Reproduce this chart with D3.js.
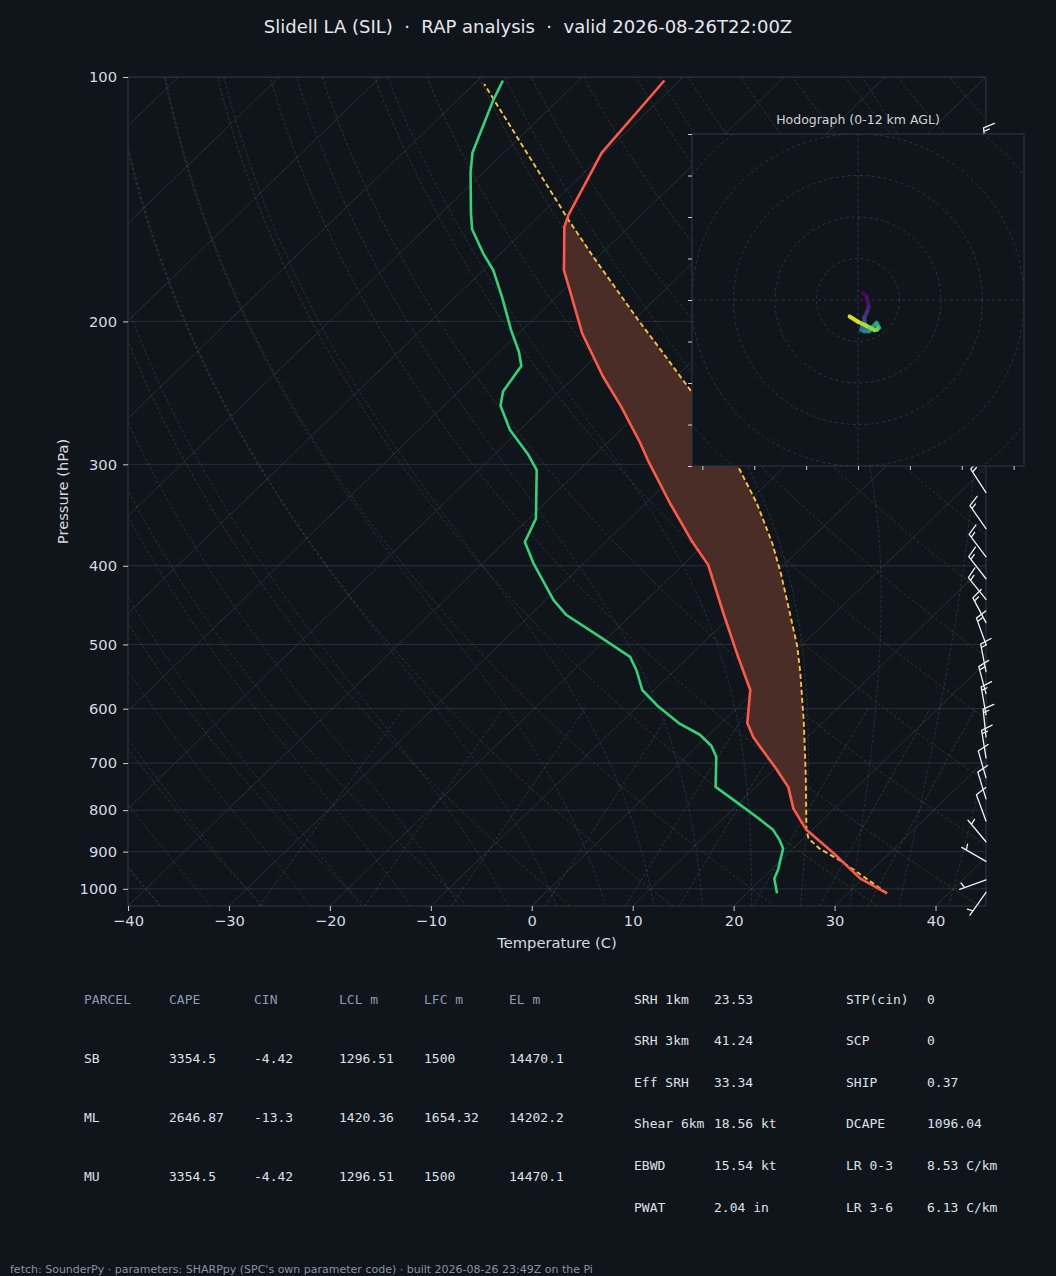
<!DOCTYPE html>
<html>
<head>
<meta charset="utf-8">
<title>Slidell LA (SIL) : RAP analysis skew-T</title>
<script src="https://cdn.jsdelivr.net/npm/d3@7"></script>
<style>
  body { margin: 0; background: #10141b; }
  svg { display: block; }
  text { font-family: "DejaVu Sans", sans-serif; white-space: pre; }
  .mono { font-family: "DejaVu Sans Mono", monospace; }
</style>
</head>
<body>
<svg width="1056" height="1276"></svg>
<script>
// ---- sounding: pressure (hPa) and temperature (C) ----
const tempP = [1013, 971, 904, 846, 823, 796, 749, 711, 675, 650, 625, 569, 518, 458, 399, 374, 335, 296, 282, 254, 234, 207, 181, 173, 153, 148, 124, 101];
const tempC = [33.9, 29.7, 24.5, 19.4, 17.8, 15.9, 13.2, 10.1, 6.9, 4.6, 2.6, -0.5, -5.1, -11.0, -17.5, -21.4, -27.6, -34.3, -36.8, -42.5, -47.2, -53.7, -59.9, -62.0, -66.4, -67.2, -70.3, -71.5];

const dewP = [1013, 971, 948, 892, 871, 846, 815, 777, 749, 688, 667, 646, 625, 594, 569, 538, 518, 489, 460, 441, 397, 374, 350, 305, 292, 272, 254, 244, 227, 218, 205, 187, 173, 165, 154, 147, 131, 124, 107, 101];
const dewC = [23.0, 21.2, 20.7, 19.0, 17.8, 16.1, 13.1, 9.1, 6.0, 3.0, 1.4, -0.9, -4.2, -8.2, -11.2, -13.8, -15.8, -20.9, -26.4, -29.2, -35.0, -38.0, -39.3, -44.2, -46.6, -51.0, -54.4, -55.6, -56.4, -58.1, -61.1, -65.3, -69.0, -71.7, -75.3, -77.1, -81.3, -83.1, -86.4, -87.5];

const parcelP = [1013, 971, 922, 892, 867, 846, 720, 625, 542, 503, 454, 409, 375, 335, 302, 243, 217, 200, 167, 150, 102];
const parcelC = [33.9, 30.3, 25.8, 22.6, 20.5, 19.4, 13.5, 8.2, 2.7, -0.3, -4.8, -9.4, -13.4, -19.0, -24.6, -37.2, -44.2, -49.3, -60.3, -66.7, -89.0];

// ---- winds: pressure, direction (deg from), speed (kt), height AGL (km) ----
const windP   = [1010, 975, 925, 875, 825, 775, 730, 690, 650, 610, 575, 540, 500, 470, 440, 415, 390, 360, 325, 300, 275, 250, 225, 200, 175, 150, 125];
const windDir = [215, 250, 300, 320, 340, 343, 344, 351, 354, 350, 345, 349, 340, 332, 321, 322, 323, 325, 327, 331, 342, 0, 27, 23, 10, 355, 355];
const windKt  = [4.2, 4.5, 6, 7, 9, 10.4, 11.5, 12.7, 14.6, 13.7, 15, 15.3, 16, 14.8, 14.2, 15.3, 16.8, 16.5, 17, 16.6, 13.1, 10.5, 8.9, 7.6, 10, 12, 15];
const windKm  = [0, 0.33, 0.79, 1.27, 1.77, 2.3, 2.8, 3.27, 3.76, 4.27, 4.74, 5.23, 5.84, 6.32, 6.82, 7.26, 7.72, 8.3, 9.04, 9.62, 10.23, 10.9, 11.62, 12.4, 13.3, 14.2, 15.3];

// ---- ticks ----
const pressureTicks = [100, 200, 300, 400, 500, 600, 700, 800, 900, 1000];
const tempTicks = [-40, -30, -20, -10, 0, 10, 20, 30, 40];
const mixingRatios = [0.0004, 0.001, 0.002, 0.004, 0.007, 0.01, 0.016, 0.024, 0.032];

// ---- text ----
const title = "Slidell LA (SIL)  \u00b7  RAP analysis  \u00b7  valid 2026-08-26T22:00Z";
const parcelHeader = ["PARCEL", "CAPE", "CIN", "LCL m", "LFC m", "EL m"];
const parcelRows = [
  ["SB", "3354.5", "-4.42", "1296.51", "1500", "14470.1"],
  ["ML", "2646.87", "-13.3", "1420.36", "1654.32", "14202.2"],
  ["MU", "3354.5", "-4.42", "1296.51", "1500", "14470.1"]
];
const paramsLeft = [["SRH 1km", "23.53"], ["SRH 3km", "41.24"], ["Eff SRH", "33.34"], ["Shear 6km", "18.56 kt"], ["EBWD", "15.54 kt"], ["PWAT", "2.04 in"]];
const paramsRight = [["STP(cin)", "0"], ["SCP", "0"], ["SHIP", "0.37"], ["DCAPE", "1096.04"], ["LR 0-3", "8.53 C/km"], ["LR 3-6", "6.13 C/km"]];
const footer = "fetch: SounderPy \u00b7 parameters: SHARPpy (SPC's own parameter code) \u00b7 built 2026-08-26 23:49Z on the Pi";

const svg = d3.select("svg");
const bg = "#10141b";
const box = {left: 128, top: 77, right: 986, bottom: 906};
const skewK = (box.right - box.left) / (box.bottom - box.top);

const y = d3.scaleLog().domain([1050, 100]).range([box.bottom, box.top]);
const xT = d3.scaleLinear().domain([-40, 45]).range([box.left, box.right]);
const sx = (t, p) => xT(t) + (box.bottom - y(p)) * skewK;

svg.append("rect").attr("width", 1056).attr("height", 1276).attr("fill", bg);

const defs = svg.append("defs");
defs.append("clipPath").attr("id", "plotclip").append("rect")
  .attr("x", box.left).attr("y", box.top)
  .attr("width", box.right - box.left).attr("height", box.bottom - box.top);

const plot = svg.append("g").attr("clip-path", "url(#plotclip)");
const line = d3.line().x(d => sx(d[1], d[0])).y(d => y(d[0]));
const logSpace = (p0, p1, n) => d3.range(n + 1).map(i => p0 * Math.pow(p1 / p0, i / n));
const zip = (P, V) => P.map((p, i) => [p, V[i]]);

// isobars
plot.selectAll(".isobar").data(pressureTicks).enter().append("line")
  .attr("x1", box.left).attr("x2", box.right)
  .attr("y1", d => y(d)).attr("y2", d => y(d))
  .attr("stroke", "#27303b").attr("stroke-width", 1);

// isotherms
d3.range(-130, 50, 10).forEach(t => {
  plot.append("path").attr("d", line([[1050, t], [100, t]]))
    .attr("fill", "none").attr("stroke", "#2a333e").attr("stroke-width", 0.9);
});

// dry adiabats
const profP = logSpace(1050, 100, 60);
d3.range(-40, 181, 10).forEach(th => {
  const pts = profP.map(p => [p, (th + 273.15) * Math.pow(p / 1000, 0.2857) - 273.15]);
  plot.append("path").attr("d", line(pts))
    .attr("fill", "none").attr("stroke", "#6e5538").attr("stroke-opacity", 0.55)
    .attr("stroke-width", 0.8).attr("stroke-dasharray", "3,2");
});

// moist adiabats
function moistAdiabat(t0) {
  const Rd = 287.04, Cp = 1005.7, Lv = 2.501e6, eps = 0.622;
  const f = (lnp, T) => {
    const p = Math.exp(lnp), tc = T - 273.15;
    const es = 6.112 * Math.exp(17.67 * tc / (tc + 243.5));
    const rs = eps * es / (p - es);
    return (Rd * T + Lv * rs) / (Cp + Lv * Lv * rs * eps / (Rd * T * T));
  };
  const run = (pEnd, n) => {
    const out = [];
    let T = t0 + 273.15, lp = Math.log(1000);
    const h = (Math.log(pEnd) - lp) / n;
    for (let i = 0; i < n; i++) {
      const k1 = f(lp, T), k2 = f(lp + h / 2, T + h * k1 / 2);
      const k3 = f(lp + h / 2, T + h * k2 / 2), k4 = f(lp + h, T + h * k3);
      T += h * (k1 + 2 * k2 + 2 * k3 + k4) / 6;
      lp += h;
      out.push([Math.exp(lp), T - 273.15]);
    }
    return out;
  };
  return run(1050, 4).reverse().concat([[1000, t0]], run(100, 60));
}
d3.range(-40, 46, 5).forEach(t0 => {
  plot.append("path").attr("d", line(moistAdiabat(t0)))
    .attr("fill", "none").attr("stroke", "#3b6272").attr("stroke-opacity", 0.5)
    .attr("stroke-width", 0.8).attr("stroke-dasharray", "3,2");
});

// mixing ratio lines
mixingRatios.forEach(w => {
  const pts = logSpace(1050, 600, 20).map(p => {
    const l = Math.log((w * p / (0.622 + w)) / 6.112);
    return [p, 243.5 * l / (17.67 - l)];
  });
  plot.append("path").attr("d", line(pts))
    .attr("fill", "none").attr("stroke", "#3b6a6a").attr("stroke-opacity", 0.55)
    .attr("stroke-width", 0.8).attr("stroke-dasharray", "3,2");
});

// positive area between the environment and the parcel
function interpLogP(P, V, p) {
  for (let i = 0; i < P.length - 1; i++) {
    if (p <= P[i] && p >= P[i + 1]) {
      const f = (Math.log(p) - Math.log(P[i])) / (Math.log(P[i + 1]) - Math.log(P[i]));
      return V[i] + f * (V[i + 1] - V[i]);
    }
  }
  return NaN;
}
const fillP = Array.from(new Set(tempP.concat(parcelP)))
  .filter(p => p <= 870 && p >= 145).sort((a, b) => b - a);
const fillPts = fillP.map(p => {
  const te = interpLogP(tempP, tempC, p), tp = interpLogP(parcelP, parcelC, p);
  return {p: p, te: te, tp: Math.max(te, tp)};
});
plot.append("path")
  .attr("d", d3.area().y(d => y(d.p)).x0(d => sx(d.te, d.p)).x1(d => sx(d.tp, d.p))(fillPts))
  .attr("fill", "#4a2d26");

// profiles
plot.append("path").attr("d", line(zip(parcelP, parcelC)))
  .attr("fill", "none").attr("stroke", "#f5c242").attr("stroke-width", 1.9)
  .attr("stroke-dasharray", "5,3");
plot.append("path").attr("d", line(zip(tempP, tempC)))
  .attr("fill", "none").attr("stroke", "#ff5a48").attr("stroke-width", 2.6)
  .attr("stroke-linejoin", "round");
plot.append("path").attr("d", line(zip(dewP, dewC)))
  .attr("fill", "none").attr("stroke", "#33d17a").attr("stroke-width", 2.6)
  .attr("stroke-linejoin", "round");

// frame + axes
svg.append("rect").attr("x", box.left).attr("y", box.top)
  .attr("width", box.right - box.left).attr("height", box.bottom - box.top)
  .attr("fill", "none").attr("stroke", "#2e3947").attr("stroke-width", 1);

function styleAxis(g) {
  g.select(".domain").remove();
  g.selectAll(".tick line").attr("stroke", "#c9ced5");
  g.selectAll(".tick text").attr("fill", "#d6dae0");
  g.attr("font-size", 14.7).attr("font-family", "DejaVu Sans, sans-serif");
}
svg.append("g").attr("transform", `translate(0,${box.bottom})`)
  .call(d3.axisBottom(xT).tickValues(tempTicks).tickSize(5).tickPadding(5))
  .call(styleAxis);
svg.append("g").attr("transform", `translate(${box.left},0)`)
  .call(d3.axisLeft(y).tickValues(pressureTicks).tickFormat(d3.format("d")).tickSize(5).tickPadding(6))
  .call(styleAxis);

svg.append("text").attr("x", (box.left + box.right) / 2).attr("y", 948)
  .attr("text-anchor", "middle").attr("font-size", 14.7).attr("fill", "#d6dae0")
  .text("Temperature (C)");
svg.append("text").attr("transform", `translate(68,${(box.top + box.bottom) / 2}) rotate(-90)`)
  .attr("text-anchor", "middle").attr("font-size", 14.7).attr("fill", "#d6dae0")
  .text("Pressure (hPa)");

// wind barbs along the right edge
function barbPath(bx, by, dirDeg, kt) {
  const L = 28, H = 0.4 * L, sp = 0.125 * L, fw = 0.25 * L;
  const a = dirDeg * Math.PI / 180;
  const dx = Math.sin(a), dy = -Math.cos(a);
  const nx = Math.cos(a), ny = Math.sin(a);
  const at = (t, h, s) => [bx + dx * (t + s) + nx * h, by + dy * (t + s) + ny * h];
  let r = Math.round(kt / 5) * 5;
  const flags = Math.floor(r / 50); r -= 50 * flags;
  const fulls = Math.floor(r / 10); r -= 10 * fulls;
  let d = `M${bx},${by}L${at(L, 0, 0)}`;
  let off = 0;
  for (let i = 0; i < flags; i++) {
    const t = L - off;
    d += `M${at(t, 0, 0)}L${at(t, H, -fw / 2)}L${at(t, 0, -fw)}Z`;
    off += fw + sp;
  }
  for (let i = 0; i < fulls; i++) {
    const t = L - off;
    d += `M${at(t, 0, 0)}L${at(t, H, fw / 2)}`;
    off += sp;
  }
  if (r >= 5) {
    if (off === 0) off = 1.5 * sp;
    const t = L - off;
    d += `M${at(t, 0, 0)}L${at(t, H / 2, fw / 4)}`;
  }
  return d;
}
const barbs = svg.append("g");
windP.forEach((p, i) => {
  barbs.append("path").attr("d", barbPath(box.right, y(p), windDir[i], windKt[i]))
    .attr("fill", "#eef1f4").attr("stroke", "#eef1f4").attr("stroke-width", 1.3)
    .attr("stroke-linecap", "round");
});

// hodograph inset
const hodo = {left: 692, top: 134, size: 332};
const hu = d3.scaleLinear().domain([-80, 80]).range([hodo.left, hodo.left + hodo.size]);
const hv = d3.scaleLinear().domain([-80, 80]).range([hodo.top + hodo.size, hodo.top]);
defs.append("clipPath").attr("id", "hodoclip").append("rect")
  .attr("x", hodo.left).attr("y", hodo.top).attr("width", hodo.size).attr("height", hodo.size);
const hg = svg.append("g");
hg.append("rect").attr("x", hodo.left).attr("y", hodo.top)
  .attr("width", hodo.size).attr("height", hodo.size).attr("fill", bg);
const hin = hg.append("g").attr("clip-path", "url(#hodoclip)");
d3.range(20, 161, 20).forEach(r => {
  hin.append("circle").attr("cx", hu(0)).attr("cy", hv(0)).attr("r", hu(r) - hu(0))
    .attr("fill", "none").attr("stroke", "#2e3a48").attr("stroke-width", 0.9)
    .attr("stroke-dasharray", "3,3");
});
hin.append("line").attr("x1", hu(-80)).attr("x2", hu(80)).attr("y1", hv(0)).attr("y2", hv(0))
  .attr("stroke", "#2e3a48").attr("stroke-width", 0.9).attr("stroke-dasharray", "3,3");
hin.append("line").attr("x1", hu(0)).attr("x2", hu(0)).attr("y1", hv(-80)).attr("y2", hv(80))
  .attr("stroke", "#2e3a48").attr("stroke-width", 0.9).attr("stroke-dasharray", "3,3");

const hodoPts = windP.map((p, i) => {
  const a = windDir[i] * Math.PI / 180;
  return {u: -windKt[i] * Math.sin(a), v: -windKt[i] * Math.cos(a), z: windKm[i]};
}).filter(d => d.z <= 12);
for (let i = 0; i < hodoPts.length - 1; i++) {
  const a = hodoPts[i], b = hodoPts[i + 1];
  hin.append("line").attr("x1", hu(a.u)).attr("y1", hv(a.v)).attr("x2", hu(b.u)).attr("y2", hv(b.v))
    .attr("stroke", d3.interpolateViridis(((a.z + b.z) / 2) / 12))
    .attr("stroke-width", 4).attr("stroke-linecap", "round");
}
hg.append("rect").attr("x", hodo.left).attr("y", hodo.top)
  .attr("width", hodo.size).attr("height", hodo.size)
  .attr("fill", "none").attr("stroke", "#2e3947").attr("stroke-width", 1);
hg.append("g").attr("transform", `translate(${hodo.left},0)`)
  .call(d3.axisLeft(hv).tickValues(d3.range(-80, 81, 20)).tickSize(4).tickFormat(""))
  .call(styleAxis);
hg.append("g").attr("transform", `translate(0,${hodo.top + hodo.size})`)
  .call(d3.axisBottom(hu).tickValues(d3.range(-75, 76, 25)).tickSize(4).tickFormat(""))
  .call(styleAxis);
hg.append("text").attr("x", hu(0)).attr("y", 120).attr("dy", "0.35em")
  .attr("text-anchor", "middle").attr("font-size", 12.5).attr("fill", "#cfd4da")
  .text("Hodograph (0-12 km AGL)");

// title
svg.append("text").attr("x", 528).attr("y", 27).attr("dy", "0.35em")
  .attr("text-anchor", "middle").attr("font-size", 18).attr("fill", "#e4e7ec")
  .text(title);

// parcel table
const colX = [84, 169, 254, 339, 424, 509];
const tab = svg.append("g").attr("class", "mono").attr("font-size", 13);
parcelHeader.forEach((h, j) => {
  tab.append("text").attr("class", "mono").attr("x", colX[j]).attr("y", 999).attr("dy", "0.35em")
    .attr("fill", "#8b9bb0").text(h);
});
parcelRows.forEach((row, i) => {
  row.forEach((c, j) => {
    tab.append("text").attr("class", "mono").attr("x", colX[j]).attr("y", 1058 + i * 59).attr("dy", "0.35em")
      .attr("fill", "#dde1e6").text(c);
  });
});

// parameter table
[[paramsLeft, 634, 714], [paramsRight, 846, 927]].forEach(([rows, xl, xv]) => {
  rows.forEach((r, i) => {
    const yy = 999 + i * 41.6;
    tab.append("text").attr("class", "mono").attr("x", xl).attr("y", yy).attr("dy", "0.35em")
      .attr("fill", "#dde1e6").text(r[0]);
    tab.append("text").attr("class", "mono").attr("x", xv).attr("y", yy).attr("dy", "0.35em")
      .attr("fill", "#dde1e6").text(r[1]);
  });
});

// footer
svg.append("text").attr("x", 10).attr("y", 1269).attr("dy", "0.35em")
  .attr("font-size", 11).attr("fill", "#8793a3").text(footer);
</script>
</body>
</html>
